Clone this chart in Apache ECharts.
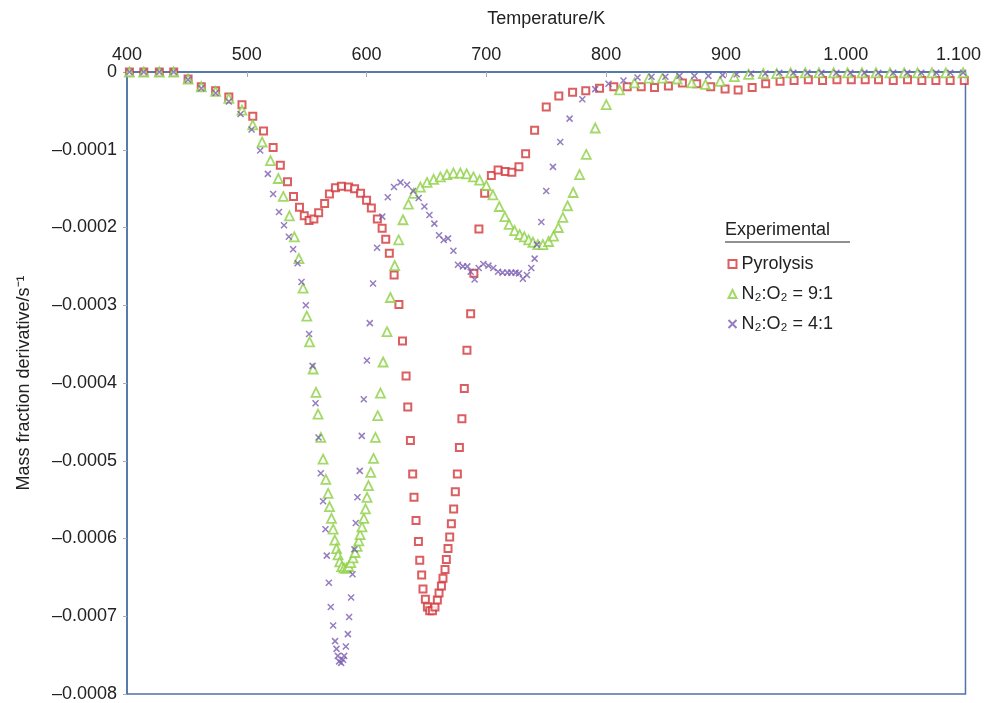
<!DOCTYPE html>
<html lang="en">
<head>
    <meta charset="UTF-8">
    <title>Mass fraction derivative</title>
    <script src="https://cdn.jsdelivr.net/npm/echarts@6/dist/echarts.min.js"></script>
</head>
<body style="margin: 0;overflow: hidden">
<div id="main" style="width: 984px;height: 703px"></div>

<script>
    // temperatures (K) and mass fraction derivative (1/s)
    const pyroT = [402, 414, 427, 439, 451, 462, 474, 485, 496, 505, 514, 522, 528, 534, 539, 544, 548, 552, 556, 560,
        565, 569, 574, 579, 585, 590, 595, 600, 604, 609, 613, 616, 619, 623, 627, 630, 633, 634.4, 636.6, 638.5,
        639.6, 641.3, 643.3, 644.4, 646.0, 647.1, 649.1, 650.8, 652.7, 655.0, 657.1, 659.1, 660.5, 662.5, 663.8, 665.5,
        666.6, 668.0, 669.4, 670.8, 672.7, 674.1, 675.8, 677.5, 679.6, 681.6, 683.8, 686.9, 689.6, 693.8, 698.6, 704.2,
        709.8, 715.8, 721.3, 727.2, 732.8, 740.3, 750, 760.5, 772, 783, 794.5, 806.4, 817.6, 829.3, 840.4, 852, 863.7,
        875.6, 887.3, 899.3, 910.2, 921.9, 933.2, 945.2, 956.9, 968.8, 980.7, 992.7, 1004.7, 1016.3, 1027.4, 1039.7,
        1051.6, 1063.6, 1075.3, 1087.2, 1099];
    const pyroD = [0, 0, 0, 0, -0.000009, -0.000019, -0.000024, -0.000032, -0.000042, -0.000057, -0.000076, -0.000097,
        -0.000120, -0.000141, -0.000160, -0.000174, -0.000185, -0.000191, -0.000189, -0.000181, -0.000169, -0.000157,
        -0.000149, -0.000147, -0.000148, -0.000150, -0.000156, -0.000165, -0.000175, -0.000189, -0.000201, -0.000215,
        -0.000233, -0.000261, -0.000299, -0.000346, -0.000391, -0.000431, -0.000474, -0.000517, -0.000547, -0.000577,
        -0.000604, -0.000628, -0.000647, -0.000665, -0.000678, -0.000688, -0.000693, -0.000693, -0.000688, -0.000679,
        -0.000670, -0.000661, -0.000651, -0.000640, -0.000627, -0.000613, -0.000598, -0.000581, -0.000562, -0.000540,
        -0.000517, -0.000483, -0.000446, -0.000407, -0.000358, -0.000311, -0.000259, -0.000202, -0.000156, -0.000133,
        -0.000126, -0.000128, -0.000129, -0.000122, -0.000105, -0.000075, -0.000045, -0.000031, -0.000026, -0.000024,
        -0.000021, -0.000019, -0.000019, -0.000019, -0.000020, -0.000018, -0.000014, -0.000015, -0.000019, -0.000022,
        -0.000023, -0.000020, -0.000015, -0.000012, -0.000011, -0.000010, -0.000011, -0.000010, -0.000010, -0.000010,
        -0.000010, -0.000011, -0.000010, -0.000011, -0.000011, -0.000011, -0.000011];

    const o91T = [402, 414, 427, 439, 451, 462, 474, 485, 496, 505, 512.8, 519.8, 526.3, 530.5, 535.6, 539.7, 543.5,
        547.0, 550.1, 552.4, 555.4, 557.8, 559.5, 561.8, 563.7, 566.0, 567.9, 569.1, 570.7, 572.1, 573.5, 574.9, 576.2,
        577.6, 579.3, 581.2, 583.2, 585.1, 586.8, 588.7, 590.4, 592.1, 593.5, 594.6, 596.2, 597.7, 599.1, 600.4, 601.6,
        603.5, 605.8, 607.4, 609.3, 611.6, 613.8, 617.1, 619.9, 623.5, 626.8, 630.4, 634.9, 639.4, 644.9, 650.5, 656.0,
        661.6, 667.1, 672.5, 678.3, 683.6, 689.2, 694.4, 700.0, 705.5, 710.8, 715.5, 719.0, 723.6, 727.8, 731.7, 735.3,
        738.9, 743.0, 747.2, 752.0, 756.1, 760.1, 763.9, 767.8, 772.5, 777.8, 783.4, 790.9, 800.1, 811.2, 823.7, 835.6,
        847.0, 859.3, 871.5, 882.9, 895.2, 907.1, 919.0, 931.3, 942.4, 954.0, 966.3, 977.7, 989.9, 1001.6, 1013.6,
        1025.3, 1037.0, 1048.9, 1060.0, 1072.0, 1083.6, 1098];
    const o91D = [0, 0, 0, 0, -0.000009, -0.000019, -0.000025, -0.000034, -0.000049, -0.000068, -0.000090, -0.000114,
        -0.000137, -0.000160, -0.000185, -0.000212, -0.000240, -0.000278, -0.000314, -0.000347, -0.000382, -0.000412,
        -0.000440, -0.000470, -0.000498, -0.000524, -0.000542, -0.000559, -0.000574, -0.000588, -0.000602, -0.000613,
        -0.000621, -0.000630, -0.000636, -0.000638, -0.000638, -0.000636, -0.000631, -0.000625, -0.000618, -0.000610,
        -0.000603, -0.000595, -0.000585, -0.000574, -0.000562, -0.000547, -0.000532, -0.000515, -0.000497, -0.000470,
        -0.000442, -0.000413, -0.000373, -0.000334, -0.000290, -0.000249, -0.000216, -0.000190, -0.000170, -0.000156,
        -0.000148, -0.000142, -0.000138, -0.000135, -0.000132, -0.000130, -0.000130, -0.000131, -0.000135, -0.000139,
        -0.000146, -0.000158, -0.000173, -0.000186, -0.000196, -0.000204, -0.000209, -0.000212, -0.000216, -0.000219,
        -0.000222, -0.000222, -0.000218, -0.000211, -0.000200, -0.000187, -0.000172, -0.000155, -0.000132, -0.000106,
        -0.000072, -0.000042, -0.000023, -0.000014, -0.000008, -0.000008, -0.000009, -0.000014, -0.000016, -0.000012,
        -0.000006, -0.000003, -0.000002, -0.000002, -0.000001, -0.000001, -0.000001, -0.000001, -0.000001, -0.000001,
        -0.000001, -0.000001, -0.000001, -0.000001, -0.000001, -0.000001, -0.000001];

    const o41T = [402, 414, 427, 439, 451, 462, 474, 485, 494.8, 504.0, 511.2, 517.6, 522.0, 526.9, 531.1, 535.1, 538.7,
        542.4, 545.7, 549.3, 552.0, 554.9, 557.4, 559.9, 561.8, 563.7, 565.7, 566.8, 568.5, 570.1, 572.1, 573.7, 574.9,
        576.0, 577.1, 578.8, 580.4, 581.3, 582.7, 584.4, 585.4, 587.1, 588.3, 589.9, 591.0, 592.4, 594.3, 596.0, 597.7,
        600.3, 602.7, 605.4, 608.8, 613.1, 617.7, 622.9, 628.3, 633.8, 638.8, 643.5, 648.3, 652.5, 656.6, 660.5, 664.4,
        668.0, 672.5, 676.3, 680.5, 684.1, 686.9, 690.2, 693.6, 697.5, 701.7, 705.8, 709.8, 713.5, 717.6, 720.8, 724.4,
        727.2, 730.5, 733.9, 737.5, 740.3, 742.2, 745.9, 750.0, 755.6, 761.7, 769.5, 780.1, 790.9, 802.0, 814.5, 826.2,
        837.9, 849.5, 861.2, 873.7, 885.4, 897.3, 909.0, 920.9, 932.9, 944.6, 956.3, 968.0, 979.7, 992.2, 1003.9,
        1015.6, 1027.3, 1039.7, 1051.4, 1063.1, 1075.6, 1087.3, 1098];
    const o41D = [0, 0, 0, 0, -0.000010, -0.000021, -0.000027, -0.000038, -0.000054, -0.000074, -0.000101, -0.000131,
        -0.000157, -0.000180, -0.000197, -0.000212, -0.000228, -0.000246, -0.000270, -0.000300, -0.000337, -0.000378,
        -0.000426, -0.000470, -0.000516, -0.000552, -0.000588, -0.000622, -0.000657, -0.000688, -0.000712, -0.000732,
        -0.000742, -0.000751, -0.000758, -0.000760, -0.000756, -0.000751, -0.000739, -0.000723, -0.000701, -0.000676,
        -0.000646, -0.000614, -0.000580, -0.000547, -0.000513, -0.000468, -0.000421, -0.000371, -0.000323, -0.000272,
        -0.000226, -0.000186, -0.000161, -0.000148, -0.000142, -0.000145, -0.000153, -0.000162, -0.000173, -0.000184,
        -0.000195, -0.000210, -0.000216, -0.000214, -0.000230, -0.000248, -0.000250, -0.000250, -0.000257, -0.000267,
        -0.000252, -0.000247, -0.000249, -0.000252, -0.000257, -0.000258, -0.000258, -0.000258, -0.000258, -0.000259,
        -0.000266, -0.000261, -0.000252, -0.000240, -0.000222, -0.000193, -0.000153, -0.000122, -0.000090, -0.000060,
        -0.000035, -0.000022, -0.000015, -0.000011, -0.000007, -0.000006, -0.000006, -0.000005, -0.000005, -0.000005,
        -0.000004, -0.000003, -0.000002, -0.000002, -0.000001, -0.000001, -0.000001, -0.000001, -0.000001, -0.000001,
        -0.000001, -0.000001, -0.000001, -0.000001, -0.000001, -0.000001, -0.000001, -0.000001];

    const seriesNames = ['Pyrolysis', 'N\u2082:O\u2082 = 9:1', 'N\u2082:O\u2082 = 4:1'];
    const xTickLabels = ['400', '500', '600', '700', '800', '900', '1.000', '1.100'];
    const yTickLabels = ['0', '\u20130.0001', '\u20130.0002', '\u20130.0003', '\u20130.0004', '\u20130.0005',
        '\u20130.0006', '\u20130.0007', '\u20130.0008'];

    const red = '#d2363a';
    const green = '#8ccf44';
    const purple = '#7b5db0';
    const frame = '#4f72a8';
    const font = 'Liberation Sans';

    function pairs(xs, ys) {
        return xs.map((x, i) => [x, ys[i]]);
    }

    const chart = echarts.init(document.getElementById('main'));

    let option = {
        animation: false,
        textStyle: {fontFamily: font},
        grid: {
            left: 127, right: 18, top: 72, bottom: 9,
            show: true, borderColor: frame, borderWidth: 1.5
        },
        legend: {
            orient: 'vertical',
            left: 721, top: 250,
            itemWidth: 8, itemHeight: 8, itemGap: 12,
            textStyle: {fontSize: 18, color: '#222', fontFamily: font},
            data: seriesNames
        },
        graphic: [
            {
                type: 'text', left: 725, top: 221,
                style: {text: 'Experimental', fontSize: 18, fill: '#222', fontFamily: font}
            },
            {
                type: 'line', shape: {x1: 725, y1: 242, x2: 850, y2: 242},
                style: {stroke: '#222', lineWidth: 1}
            }
        ],
        xAxis: {
            type: 'value', position: 'top',
            min: 400, max: 1100, interval: 100,
            name: 'Temperature/K', nameLocation: 'middle', nameGap: 44,
            nameTextStyle: {fontSize: 18, color: '#222'},
            axisLine: {lineStyle: {color: frame, width: 1.5}},
            axisTick: {inside: true, length: 5, lineStyle: {color: '#aaa'}},
            axisLabel: {
                fontSize: 18, color: '#222', margin: 8,
                formatter: v => {
                    const i = Math.round((v - 400) / 100);
                    return i === xTickLabels.length - 1 ? '{last|' + xTickLabels[i] + '}' : xTickLabels[i];
                },
                rich: {last: {fontSize: 18, color: '#222', padding: [0, 14, 0, 0]}}
            },
            splitLine: {show: false}
        },
        yAxis: {
            type: 'value',
            min: -0.0008, max: 0, interval: 0.0001,
            name: 'Mass fraction derivative/s\u207B\u00B9', nameLocation: 'middle', nameGap: 94,
            nameTextStyle: {fontSize: 18, color: '#222'},
            axisLine: {lineStyle: {color: frame, width: 1.5}},
            axisTick: {length: 4, lineStyle: {color: '#aaa'}},
            axisLabel: {
                fontSize: 18, color: '#222', margin: 10,
                formatter: v => yTickLabels[Math.round(-v * 10000)]
            },
            splitLine: {show: false}
        },
        series: [
            {
                name: seriesNames[0], type: 'scatter', clip: false,
                symbol: 'rect', symbolSize: 7,
                itemStyle: {color: '#fff', borderColor: red, borderWidth: 2},
                data: pairs(pyroT, pyroD)
            },
            {
                name: seriesNames[1], type: 'scatter', clip: false,
                symbol: 'triangle', symbolSize: 9,
                itemStyle: {color: '#fff', borderColor: green, borderWidth: 1.8},
                data: pairs(o91T, o91D)
            },
            {
                name: seriesNames[2], type: 'scatter', clip: false,
                symbol: 'path://M0,0L10,10M10,0L0,10', symbolSize: 6,
                itemStyle: {color: 'none', borderColor: purple, borderWidth: 1.5},
                data: pairs(o41T, o41D)
            }
        ]
    };
    chart.setOption(option);
</script>
</body>

</html>
